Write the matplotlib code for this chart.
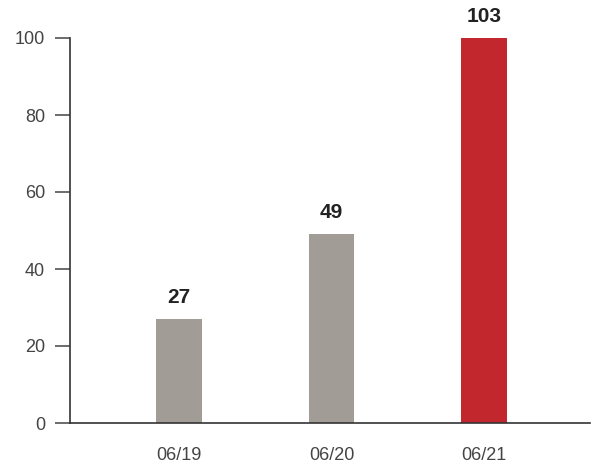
import matplotlib
matplotlib.use("Agg")
import matplotlib.pyplot as plt

categories = ["06/19", "06/20", "06/21"]
values = [27, 49, 103]
colors = ["#a19c96", "#a19c96", "#c1272d"]
yticks = [0, 20, 40, 60, 80, 100]

plt.rcParams['font.family'] = ['Liberation Sans', 'DejaVu Sans']

fig = plt.figure(figsize=(5.96, 4.65), dpi=100)
ax = fig.add_axes([70/596, 1-423/465, 520/596, 385/465])

x = list(range(len(categories)))
bars = ax.bar(x, values, width=0.30, color=colors)
ax.set_ylim(0, 100)
ax.set_xlim(-0.715, 2.695)

for xi, v in zip(x, values):
    ax.annotate(str(v), xy=(xi, min(v, 100)), xytext=(0, 9), textcoords="offset points",
                ha="center", va="bottom", fontsize=15, fontweight="bold",
                color="#222222", annotation_clip=False)

ax.set_xticks(x)
ax.set_xticklabels(categories)
ax.set_yticks(yticks)
ax.tick_params(axis="x", length=0, pad=17, labelsize=13, labelcolor="#444444")
ax.tick_params(axis="y", length=11, width=1.1, color="#444444", pad=7, labelsize=13, labelcolor="#444444")

for s in ["top", "right"]:
    ax.spines[s].set_visible(False)
for s in ["left", "bottom"]:
    ax.spines[s].set_color("#333333")
    ax.spines[s].set_linewidth(1.2)

fig.savefig("out.png", dpi=100)
